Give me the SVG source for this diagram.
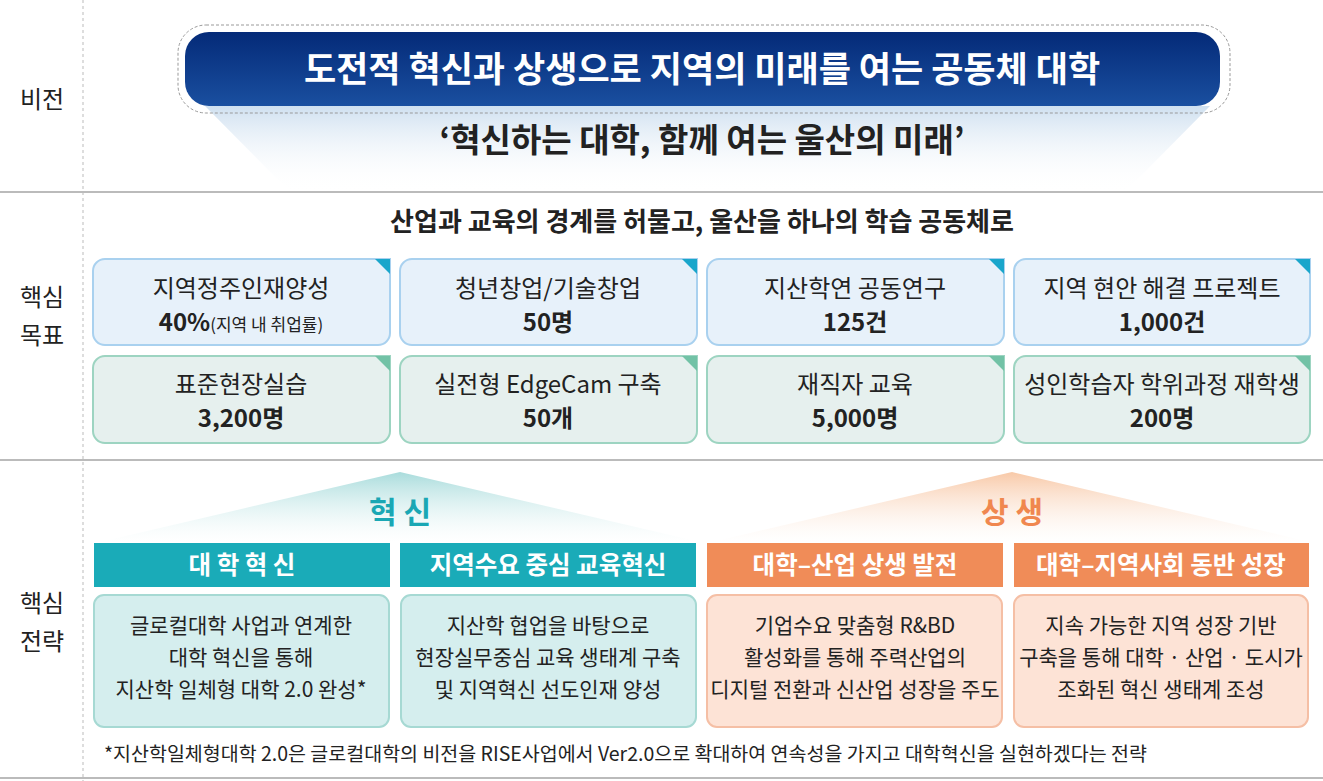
<svg xmlns="http://www.w3.org/2000/svg" width="1323" height="781" viewBox="0 0 1323 781">
<style>
text{font-family:"Noto Sans CJK KR","Noto Sans",sans-serif;text-anchor:middle;fill:#222}
.lbl{font-size:24px}
.b{font-weight:bold}
.gt{font-size:24px}
.g1{fill:#e7f1fa;stroke:#a9d1ef;stroke-width:2}
.g2{fill:#e6f0ee;stroke:#9dd4c1;stroke-width:2}
.hd{font-size:24.5px;font-weight:bold;fill:#fff}
.ct{font-size:21px}
</style>
<defs>
<linearGradient id="blue" x1="0" y1="0" x2="0" y2="1"><stop offset="0" stop-color="#042a78"/><stop offset="1" stop-color="#1a4fa0"/></linearGradient>
<linearGradient id="fade" x1="0" y1="0" x2="0" y2="1"><stop offset="0" stop-color="#cfe0f0"/><stop offset="1" stop-color="#ffffff" stop-opacity="0"/></linearGradient>
<linearGradient id="tealf" x1="0" y1="0" x2="0" y2="1"><stop offset="0" stop-color="#a9dcdc"/><stop offset="1" stop-color="#ffffff" stop-opacity="0.3"/></linearGradient>
<linearGradient id="orf" x1="0" y1="0" x2="0" y2="1"><stop offset="0" stop-color="#f8c9a8"/><stop offset="1" stop-color="#ffffff" stop-opacity="0.3"/></linearGradient>
</defs>
<g id="grid" stroke="#bbb" fill="none">
<line x1="83" y1="0" x2="83" y2="781" stroke-dasharray="3,3"/>
<line x1="0" y1="192" x2="1323" y2="192" stroke-width="2"/>
<line x1="0" y1="460" x2="1323" y2="460" stroke-width="2"/>
<line x1="0" y1="778" x2="1323" y2="778" stroke-width="2"/>
</g>
<g id="labels">
<text class="lbl" x="42" y="108">비전</text>
<text class="lbl" x="42" y="306">핵심</text>
<text class="lbl" x="42" y="344">목표</text>
<text class="lbl" x="42" y="612">핵심</text>
<text class="lbl" x="42" y="650">전략</text>
</g>
<g id="vision">
<polygon points="205,106 1210,106 1125,192 290,192" fill="url(#fade)"/>
<rect x="178" y="25" width="1052" height="88" rx="28" fill="none" stroke="#999" stroke-dasharray="3,2"/>
<rect x="185" y="32" width="1035" height="74" rx="24" fill="url(#blue)"/>
<text x="702" y="82" font-size="35" class="b" style="fill:#fff">도전적 혁신과 상생으로 지역의 미래를 여는 공동체 대학</text>
<text x="702" y="152" font-size="33" class="b">‘혁신하는 대학, 함께 여는 울산의 미래’</text>
</g>
<text x="702" y="231" font-size="26" class="b">산업과 교육의 경계를 허물고, 울산을 하나의 학습 공동체로</text>
<g id="goal1"><path class="g1" d="M105,259H390V333a12,12 0 0 1 -12,12H105a12,12 0 0 1 -12,-12V271a12,12 0 0 1 12,-12Z"/><polygon points="375,259 390,259 390,274" fill="#1aa6cb"/><text class="gt" x="241" y="297">지역정주인재양성</text><text class="gt b" x="241" y="331">40%<tspan font-size="17" font-weight="normal">(지역 내 취업률)</tspan></text></g>
<g id="goal2"><path class="g1" d="M412,259H697V333a12,12 0 0 1 -12,12H412a12,12 0 0 1 -12,-12V271a12,12 0 0 1 12,-12Z"/><polygon points="682,259 697,259 697,274" fill="#1aa6cb"/><text class="gt" x="548" y="297">청년창업/기술창업</text><text class="gt b" x="548" y="331">50명</text></g>
<g id="goal3"><path class="g1" d="M719,259H1004V333a12,12 0 0 1 -12,12H719a12,12 0 0 1 -12,-12V271a12,12 0 0 1 12,-12Z"/><polygon points="989,259 1004,259 1004,274" fill="#1aa6cb"/><text class="gt" x="855" y="297">지산학연 공동연구</text><text class="gt b" x="855" y="331">125건</text></g>
<g id="goal4"><path class="g1" d="M1026,259H1310V333a12,12 0 0 1 -12,12H1026a12,12 0 0 1 -12,-12V271a12,12 0 0 1 12,-12Z"/><polygon points="1295,259 1310,259 1310,274" fill="#1aa6cb"/><text class="gt" x="1162" y="297">지역 현안 해결 프로젝트</text><text class="gt b" x="1162" y="331">1,000건</text></g>
<g id="goal5"><path class="g2" d="M105,356H390V431a12,12 0 0 1 -12,12H105a12,12 0 0 1 -12,-12V368a12,12 0 0 1 12,-12Z"/><polygon points="375,356 390,356 390,371" fill="#72c2a6"/><text class="gt" x="241" y="393">표준현장실습</text><text class="gt b" x="241" y="427">3,200명</text></g>
<g id="goal6"><path class="g2" d="M412,356H697V431a12,12 0 0 1 -12,12H412a12,12 0 0 1 -12,-12V368a12,12 0 0 1 12,-12Z"/><polygon points="682,356 697,356 697,371" fill="#72c2a6"/><text class="gt" x="548" y="393">실전형 EdgeCam 구축</text><text class="gt b" x="548" y="427">50개</text></g>
<g id="goal7"><path class="g2" d="M719,356H1004V431a12,12 0 0 1 -12,12H719a12,12 0 0 1 -12,-12V368a12,12 0 0 1 12,-12Z"/><polygon points="989,356 1004,356 1004,371" fill="#72c2a6"/><text class="gt" x="855" y="393">재직자 교육</text><text class="gt b" x="855" y="427">5,000명</text></g>
<g id="goal8"><path class="g2" d="M1026,356H1310V431a12,12 0 0 1 -12,12H1026a12,12 0 0 1 -12,-12V368a12,12 0 0 1 12,-12Z"/><polygon points="1295,356 1310,356 1310,371" fill="#72c2a6"/><text class="gt" x="1162" y="393">성인학습자 학위과정 재학생</text><text class="gt b" x="1162" y="427">200명</text></g>
<g id="innov">
<polygon points="400,472 700,542 100,542" fill="url(#tealf)"/>
<text x="400" y="523" font-size="30" class="b" style="fill:#1aa7b4">혁 신</text>
</g>
<g id="coexist">
<polygon points="1012,472 1310,542 712,542" fill="url(#orf)"/>
<text x="1012" y="523" font-size="30" class="b" style="fill:#f0874f">상 생</text>
</g>
<g id="s1"><rect x="94" y="543" width="296" height="44" fill="#1aabb8"/><text class="hd" x="242" y="574">대 학 혁 신</text>
<rect x="94" y="595" width="295" height="132" rx="10" fill="#d5eeee" stroke="#a6d9d3" stroke-width="2"/>
<text class="ct" x="241" y="633">글로컬대학 사업과 연계한</text><text class="ct" x="241" y="665">대학 혁신을 통해</text><text class="ct" x="241" y="697">지산학 일체형 대학 2.0 완성*</text></g>
<g id="s2"><rect x="400" y="543" width="296" height="44" fill="#1aabb8"/><text class="hd" x="548" y="574">지역수요 중심 교육혁신</text>
<rect x="401" y="595" width="295" height="132" rx="10" fill="#d5eeee" stroke="#a6d9d3" stroke-width="2"/>
<text class="ct" x="548" y="633">지산학 협업을 바탕으로</text><text class="ct" x="548" y="665">현장실무중심 교육 생태계 구축</text><text class="ct" x="548" y="697">및 지역혁신 선도인재 양성</text></g>
<g id="s3"><rect x="707" y="543" width="296" height="44" fill="#f08c58"/><text class="hd" x="855" y="574">대학–산업 상생 발전</text>
<rect x="707" y="595" width="295" height="132" rx="10" fill="#fde3d6" stroke="#f5bfa5" stroke-width="2"/>
<text class="ct" x="855" y="633">기업수요 맞춤형 R&amp;BD</text><text class="ct" x="855" y="665">활성화를 통해 주력산업의</text><text class="ct" x="855" y="697">디지털 전환과 신산업 성장을 주도</text></g>
<g id="s4"><rect x="1014" y="543" width="295" height="44" fill="#f08c58"/><text class="hd" x="1161" y="574">대학–지역사회 동반 성장</text>
<rect x="1014" y="595" width="294" height="132" rx="10" fill="#fde3d6" stroke="#f5bfa5" stroke-width="2"/>
<text class="ct" x="1161" y="633">지속 가능한 지역 성장 기반</text><text class="ct" x="1161" y="665">구축을 통해 대학 · 산업 · 도시가</text><text class="ct" x="1161" y="697">조화된 혁신 생태계 조성</text></g>
<text x="104" y="761" font-size="19.5" style="text-anchor:start">*지산학일체형대학 2.0은 글로컬대학의 비전을 RISE사업에서 Ver2.0으로 확대하여 연속성을 가지고 대학혁신을 실현하겠다는 전략</text>
</svg>
